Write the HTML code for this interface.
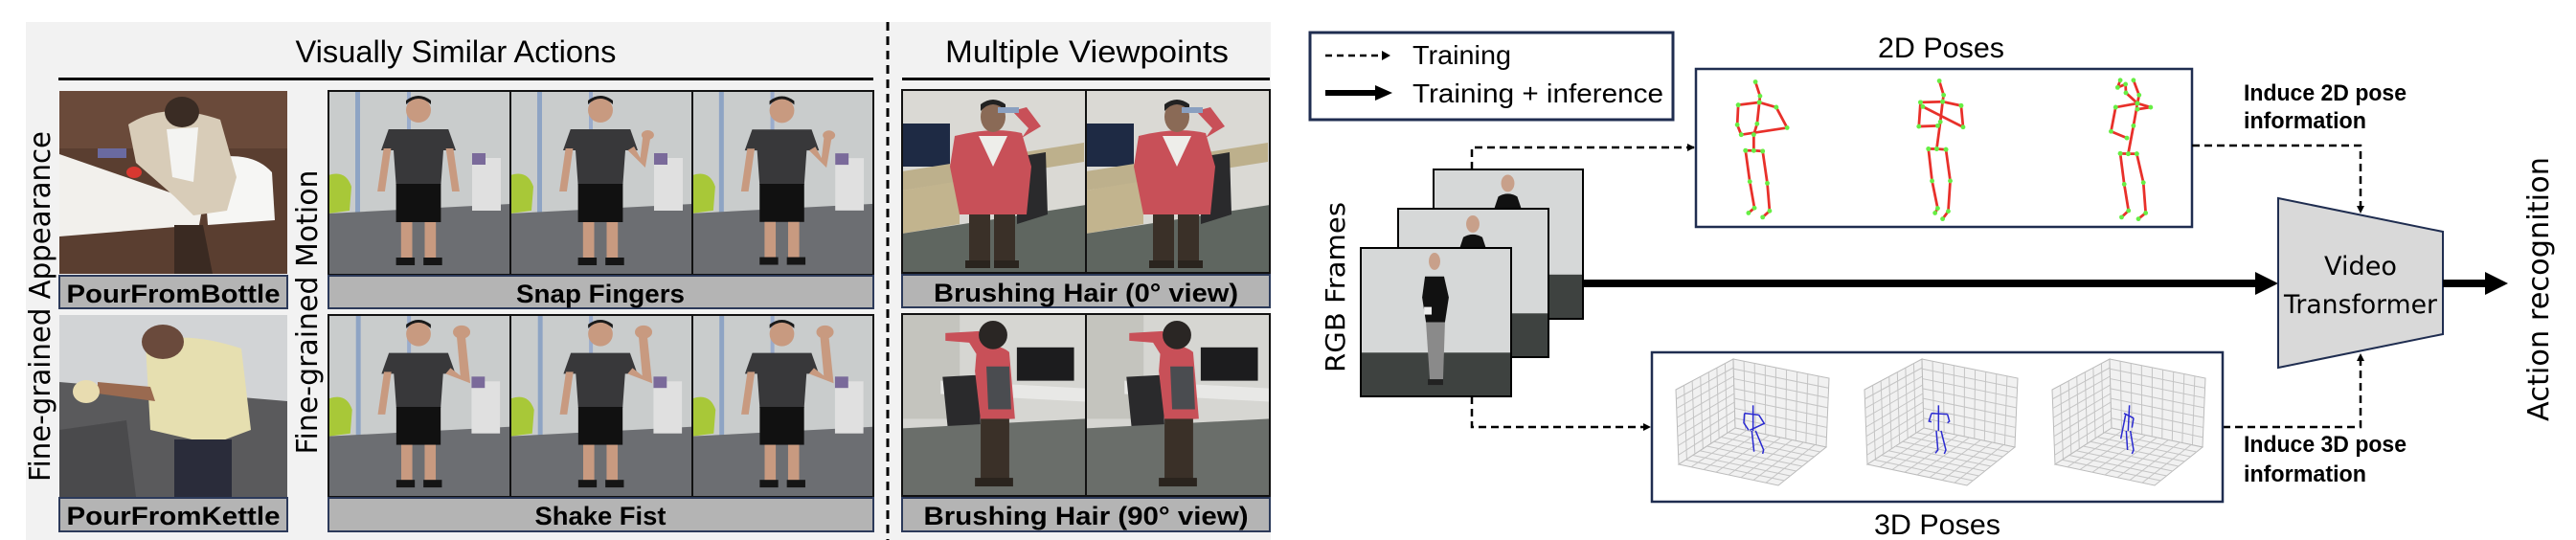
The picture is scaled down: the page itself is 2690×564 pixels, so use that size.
<!DOCTYPE html>
<html><head><meta charset="utf-8">
<style>
html,body{margin:0;padding:0;background:#fff;}
svg{display:block;}
.c{font-family:"Liberation Sans Narrow","Liberation Sans",sans-serif;}
.d{font-family:"DejaVu Sans","Liberation Sans",sans-serif;}
.lb{font-family:"Liberation Sans Narrow","Liberation Sans",sans-serif;font-weight:bold;font-size:27px;}
</style></head>
<body>
<svg id="s" width="2690" height="564" viewBox="0 0 2690 564" xmlns="http://www.w3.org/2000/svg">
<defs>
<marker id="ah" markerWidth="8" markerHeight="8" refX="7" refY="4" orient="auto" markerUnits="userSpaceOnUse"><path d="M0,0 L8,4 L0,8 Z" fill="#000"/></marker>
<g id="room">
  <rect x="0" y="0" width="190" height="192" fill="#c9cccc"/>
  <rect x="28" y="0" width="5" height="150" fill="#8ea4c4"/>
  <rect x="82" y="0" width="4" height="150" fill="#9aaccc"/>
  <polygon points="0,128 190,118 190,192 0,192" fill="#6c6e72"/>
  <path d="M0,88 Q18,82 24,100 L22,125 L0,128 Z" fill="#a8c838"/>
  <rect x="150" y="70" width="30" height="55" fill="#e0e0e0"/>
  <rect x="150" y="65" width="14" height="12" fill="#7a6a9a"/>
</g>
<g id="man">
  <ellipse cx="94" cy="20" rx="10" ry="13" fill="#c89a80"/>
  <path d="M84,14 Q94,2 104,14 L104,10 Q94,0 84,10 Z" fill="#1a1a1a"/>
  <path d="M70,40 L118,40 L124,62 L114,62 L112,98 L76,98 L74,62 L64,62 Z" fill="#38383a"/>
  <rect x="76" y="97" width="36" height="40" fill="#111"/>
  <rect x="80" y="137" width="9" height="38" fill="#c89a80"/>
  <rect x="99" y="137" width="9" height="38" fill="#c89a80"/>
  <rect x="76" y="174" width="15" height="8" fill="#151515"/>
  <rect x="98" y="174" width="15" height="8" fill="#151515"/>
</g>
<g id="armL"><path d="M66,60 L61,105 L67,105 L72,60 Z" fill="#c89a80"/></g>
<g id="armRdown"><path d="M116,60 L121,105 L127,105 L122,60 Z" fill="#c89a80"/></g>
<g id="armRsnap"><path d="M116,62 L130,80 L134,50 L128,48 L126,70 L121,58 Z" fill="#c89a80"/><circle cx="132" cy="46" r="5" fill="#c89a80"/></g>
<g id="armRfist"><path d="M116,62 L136,72 L132,22 L125,22 L128,64 L120,56 Z" fill="#c89a80"/><circle cx="129" cy="18" r="7" fill="#c89a80"/></g>
<g id="m1"><g transform="translate(94,0) scale(1.3,1) translate(-94,0)"><use href="#man"/><use href="#armL"/><use href="#armRdown"/></g></g>
<g id="m2"><g transform="translate(94,0) scale(1.3,1) translate(-94,0)"><use href="#man"/><use href="#armL"/><use href="#armRsnap"/></g></g>
<g id="m3"><g transform="translate(94,0) scale(1.3,1) translate(-94,0)"><use href="#man"/><use href="#armL"/><use href="#armRfist"/></g></g>
<g id="office">
  <rect x="0" y="0" width="192" height="191" fill="#dad9d4"/>
  <rect x="0" y="35" width="50" height="45" fill="#1e2a44"/>
  <polygon points="0,85 190,55 190,75 0,105" fill="#bdb08c"/>
  <polygon points="0,105 60,95 60,140 0,150" fill="#c2b48e"/>
  <polygon points="0,150 192,120 192,191 0,191" fill="#5f6660"/>
  <path d="M120,70 L150,65 L152,130 L120,140 Z" fill="#2a2a2c"/>
</g>
<g id="hairman">
  <path d="M55,48 Q95,38 125,45 L135,80 L130,130 L60,130 L50,80 Z" fill="#c85058"/>
  <path d="M80,48 L110,48 L95,80 Z" fill="#eeeeea"/>
  <ellipse cx="95" cy="28" rx="13" ry="16" fill="#8a6a56"/>
  <path d="M82,22 Q95,8 108,22 L108,15 Q95,5 82,15 Z" fill="#222"/>
  <path d="M125,50 L145,38 L130,18 L115,22 L132,40 Z" fill="#c85058"/>
  <rect x="100" y="18" width="22" height="6" fill="#8aa0c0"/>
  <rect x="70" y="130" width="22" height="52" fill="#3a3028"/>
  <rect x="96" y="130" width="22" height="52" fill="#3a3028"/>
  <rect x="66" y="178" width="26" height="8" fill="#2a241e"/>
  <rect x="96" y="178" width="26" height="8" fill="#2a241e"/>
</g>
<g id="office2">
  <rect x="0" y="0" width="192" height="191" fill="#d6d6d2"/>
  <rect x="0" y="0" width="60" height="110" fill="#c4c4be"/>
  <rect x="120" y="35" width="60" height="35" fill="#1c1c1e"/>
  <polygon points="40,70 192,78 192,92 40,84" fill="#e8e8e6"/>
  <path d="M42,66 L80,64 L82,120 L48,125 Z" fill="#2a2a2c"/>
  <polygon points="0,120 192,110 192,191 0,191" fill="#6a6e6a"/>
</g>
<g id="sideman">
  <path d="M78,35 Q100,30 112,40 L118,110 L82,112 L76,60 Z" fill="#c85058"/>
  <path d="M88,55 L112,55 L114,100 L90,100 Z" fill="#4a4c50"/>
  <path d="M45,20 L80,18 L92,42 L80,46 L70,30 L45,28 Z" fill="#c85058"/>
  <ellipse cx="95" cy="22" rx="15" ry="15" fill="#2a2624"/>
  <rect x="82" y="110" width="30" height="65" fill="#3a3028"/>
  <rect x="76" y="172" width="40" height="9" fill="#2a241e"/>
</g>
<g id="girlbg">
  <rect x="0" y="0" width="157" height="156" fill="#d6d8d8"/>
  <rect x="0" y="110" width="157" height="46" fill="#3e4240"/>
</g>
</defs>

<!-- LEFT PANEL -->
<rect x="27" y="23" width="1300" height="541" fill="#f2f2f2"/>
<text class="c" x="476" y="65" font-size="32" text-anchor="middle" textLength="335" lengthAdjust="spacingAndGlyphs">Visually Similar Actions</text>
<text class="c" x="1135" y="65" font-size="32" text-anchor="middle" textLength="296" lengthAdjust="spacingAndGlyphs">Multiple Viewpoints</text>
<rect x="61" y="81" width="851" height="3" fill="#000"/>
<rect x="942" y="81" width="384" height="3" fill="#000"/>
<line x1="927" y1="23" x2="927" y2="564" stroke="#000" stroke-width="3" stroke-dasharray="9,6"/>

<text class="d" transform="translate(52,320) rotate(-90)" font-size="30" text-anchor="middle" textLength="366" lengthAdjust="spacingAndGlyphs">Fine-grained Appearance</text>
<text class="d" transform="translate(331,326) rotate(-90)" font-size="30" text-anchor="middle" textLength="297" lengthAdjust="spacingAndGlyphs">Fine-grained Motion</text>

<!-- Pour from bottle -->
<svg x="62" y="95" width="238" height="191" viewBox="0 0 238 191">
  <rect width="238" height="191" fill="#5a3e30"/>
  <rect x="0" y="0" width="238" height="60" fill="#6a4a3a"/>
  <polygon points="0,66 150,118 146,140 0,152" fill="#f2f0ec"/>
  <path d="M150,72 Q200,60 222,85 L225,135 L155,140 Z" fill="#f6f6f4"/>
  <path d="M72,35 Q110,10 168,30 L185,90 L175,125 L140,130 L120,110 L80,75 Z" fill="#d8ccb8"/>
  <path d="M112,40 L145,38 L140,95 L118,90 Z" fill="#f4f4f2"/>
  <ellipse cx="128" cy="22" rx="18" ry="16" fill="#3a2c24"/>
  <rect x="40" y="60" width="30" height="10" fill="#6a6aa0"/>
  <ellipse cx="78" cy="85" rx="8" ry="6" fill="#d83830"/>
  <path d="M120,140 L150,140 L160,191 L120,191 Z" fill="#3a2a22"/>
</svg>
<rect x="62" y="288" width="238" height="34" fill="#b4b4b4" stroke="#2c3a5a" stroke-width="2"/>
<text class="lb" x="181" y="316" text-anchor="middle" textLength="223" lengthAdjust="spacingAndGlyphs">PourFromBottle</text>

<!-- Pour from kettle -->
<svg x="62" y="329" width="238" height="190" viewBox="0 0 238 190">
  <rect width="238" height="190" fill="#d2d4d6"/>
  <polygon points="0,70 238,90 238,190 0,190" fill="#5a5a5c"/>
  <polygon points="0,190 0,120 70,110 80,190" fill="#4a4a4c"/>
  <path d="M90,30 Q130,15 190,35 L200,120 L160,135 L95,120 Z" fill="#e6dfb0"/>
  <path d="M95,75 L40,70 L40,82 L100,90 Z" fill="#9a6a50"/>
  <ellipse cx="28" cy="80" rx="14" ry="12" fill="#e8dcb0"/>
  <ellipse cx="108" cy="28" rx="22" ry="18" fill="#6a4a3c"/>
  <rect x="120" y="130" width="60" height="60" fill="#2a2c3a"/>
</svg>
<rect x="62" y="520" width="238" height="35" fill="#b4b4b4" stroke="#2c3a5a" stroke-width="2"/>
<text class="lb" x="181" y="548" text-anchor="middle" textLength="223" lengthAdjust="spacingAndGlyphs">PourFromKettle</text>

<!-- Snap fingers -->
<svg x="343" y="95" width="190" height="192" viewBox="0 0 190 192"><use href="#room"/><use href="#m1"/></svg>
<svg x="533" y="95" width="190" height="192" viewBox="0 0 190 192"><use href="#room"/><use href="#m2"/></svg>
<svg x="723" y="95" width="189" height="192" viewBox="0 0 190 192"><use href="#room"/><use href="#m2"/></svg>
<rect x="343" y="95" width="569" height="192" fill="none" stroke="#111" stroke-width="2"/>
<line x1="533" y1="95" x2="533" y2="287" stroke="#111" stroke-width="2"/>
<line x1="723" y1="95" x2="723" y2="287" stroke="#111" stroke-width="2"/>
<rect x="343" y="288" width="569" height="34" fill="#b4b4b4" stroke="#2c3a5a" stroke-width="2"/>
<text class="lb" x="627" y="316" text-anchor="middle" textLength="176" lengthAdjust="spacingAndGlyphs">Snap Fingers</text>

<!-- Shake fist -->
<svg x="343" y="329" width="190" height="190" viewBox="0 0 190 192"><use href="#room"/><use href="#m3"/></svg>
<svg x="533" y="329" width="190" height="190" viewBox="0 0 190 192"><use href="#room"/><use href="#m3"/></svg>
<svg x="723" y="329" width="189" height="190" viewBox="0 0 190 192"><use href="#room"/><use href="#m3"/></svg>
<rect x="343" y="329" width="569" height="190" fill="none" stroke="#111" stroke-width="2"/>
<line x1="533" y1="329" x2="533" y2="519" stroke="#111" stroke-width="2"/>
<line x1="723" y1="329" x2="723" y2="519" stroke="#111" stroke-width="2"/>
<rect x="343" y="520" width="569" height="35" fill="#b4b4b4" stroke="#2c3a5a" stroke-width="2"/>
<text class="lb" x="627" y="548" text-anchor="middle" textLength="137" lengthAdjust="spacingAndGlyphs">Shake Fist</text>

<!-- Multiple viewpoints -->
<svg x="942" y="94" width="192" height="191" viewBox="0 0 192 191"><use href="#office"/><use href="#hairman"/></svg>
<svg x="1134" y="94" width="192" height="191" viewBox="0 0 192 191"><use href="#office"/><use href="#hairman"/></svg>
<rect x="942" y="94" width="384" height="191" fill="none" stroke="#111" stroke-width="2"/>
<line x1="1134" y1="94" x2="1134" y2="285" stroke="#111" stroke-width="2"/>
<rect x="942" y="287" width="384" height="34" fill="#b4b4b4" stroke="#2c3a5a" stroke-width="2"/>
<text class="lb" x="1134" y="315" text-anchor="middle" textLength="318" lengthAdjust="spacingAndGlyphs">Brushing Hair (0° view)</text>

<svg x="942" y="328" width="192" height="190" viewBox="0 0 192 191"><use href="#office2"/><use href="#sideman"/></svg>
<svg x="1134" y="328" width="192" height="190" viewBox="0 0 192 191"><use href="#office2"/><use href="#sideman"/></svg>
<rect x="942" y="328" width="384" height="190" fill="none" stroke="#111" stroke-width="2"/>
<line x1="1134" y1="328" x2="1134" y2="518" stroke="#111" stroke-width="2"/>
<rect x="942" y="520" width="384" height="35" fill="#b4b4b4" stroke="#2c3a5a" stroke-width="2"/>
<text class="lb" x="1134" y="548" text-anchor="middle" textLength="339" lengthAdjust="spacingAndGlyphs">Brushing Hair (90° view)</text>

<!-- RIGHT: legend -->
<rect x="1368" y="34" width="379" height="91" fill="#fff" stroke="#1f2d50" stroke-width="3"/>
<line x1="1384" y1="58" x2="1444" y2="58" stroke="#000" stroke-width="2.5" stroke-dasharray="7,5"/>
<path d="M1443,53 L1452,58 L1443,63 Z" fill="#000"/>
<text class="c" x="1475" y="67" font-size="28" textLength="103" lengthAdjust="spacingAndGlyphs">Training</text>
<line x1="1384" y1="97" x2="1438" y2="97" stroke="#000" stroke-width="6"/>
<path d="M1436,89 L1454,97 L1436,105 Z" fill="#000"/>
<text class="c" x="1475" y="107" font-size="28" textLength="262" lengthAdjust="spacingAndGlyphs">Training + inference</text>

<!-- 2D poses -->
<text class="c" x="2027" y="60" font-size="30" text-anchor="middle" textLength="132" lengthAdjust="spacingAndGlyphs">2D Poses</text>
<rect x="1771" y="72" width="518" height="165" fill="#fff" stroke="#1f2d50" stroke-width="2.5"/>
<g id="sk2d" transform="translate(1770,70) scale(0.3448)" stroke="#e8302a" stroke-width="8" fill="none" stroke-linejoin="round"></g>

<text class="c" x="2343" y="105" font-size="24" font-weight="bold" textLength="170" lengthAdjust="spacingAndGlyphs">Induce 2D pose</text>
<text class="c" x="2343" y="134" font-size="24" font-weight="bold" textLength="128" lengthAdjust="spacingAndGlyphs">information</text>

<!-- RGB frames -->
<svg x="1497" y="177" width="156" height="156" viewBox="0 0 157 156"><use href="#girlbg"/>
  <ellipse cx="78" cy="14" rx="7" ry="9" fill="#c8a08a"/><path d="M68,28 Q78,22 88,28 L92,40 L64,40 Z" fill="#111"/></svg>
<rect x="1497" y="177" width="156" height="156" fill="none" stroke="#000" stroke-width="2"/>
<svg x="1460" y="218" width="157" height="155" viewBox="0 0 157 156"><use href="#girlbg"/>
  <ellipse cx="78" cy="16" rx="7" ry="9" fill="#c8a08a"/><path d="M68,30 Q78,24 88,30 L92,42 L64,42 Z" fill="#111"/></svg>
<rect x="1460" y="218" width="157" height="155" fill="none" stroke="#000" stroke-width="2"/>
<svg x="1421" y="259" width="157" height="155" viewBox="0 0 157 156"><use href="#girlbg"/>
  <ellipse cx="77" cy="14" rx="6" ry="9" fill="#c8a08a"/>
  <path d="M67,30 L87,30 L92,52 L88,78 L68,78 L64,52 Z" fill="#111"/>
  <path d="M68,78 L88,78 L86,138 L72,138 Z" fill="#8a8a8a"/>
  <rect x="66" y="62" width="8" height="8" fill="#eee"/>
  <rect x="70" y="138" width="16" height="6" fill="#222"/></svg>
<rect x="1421" y="259" width="157" height="155" fill="none" stroke="#000" stroke-width="2"/>
<text class="d" transform="translate(1404,300) rotate(-90)" font-size="28" text-anchor="middle" textLength="178" lengthAdjust="spacingAndGlyphs">RGB Frames</text>

<!-- dashed connectors -->
<path d="M1537,177 L1537,154 L1769,154" fill="none" stroke="#000" stroke-width="2.5" stroke-dasharray="8,5" marker-end="url(#ah)"/>
<path d="M2289,152 L2465,152 L2465,222" fill="none" stroke="#000" stroke-width="2.5" stroke-dasharray="8,5" marker-end="url(#ah)"/>
<path d="M1537,414 L1537,446 L1723,446" fill="none" stroke="#000" stroke-width="2.5" stroke-dasharray="8,5" marker-end="url(#ah)"/>
<path d="M2321,446 L2465,446 L2465,370" fill="none" stroke="#000" stroke-width="2.5" stroke-dasharray="8,5" marker-end="url(#ah)"/>

<!-- 3D poses -->
<rect x="1725" y="368" width="596" height="156" fill="#fff" stroke="#1f2d50" stroke-width="2.5"/>
<g id="cubes"></g>
<text class="c" x="2023" y="558" font-size="30" text-anchor="middle" textLength="132" lengthAdjust="spacingAndGlyphs">3D Poses</text>
<text class="c" x="2343" y="472" font-size="24" font-weight="bold" textLength="170" lengthAdjust="spacingAndGlyphs">Induce 3D pose</text>
<text class="c" x="2343" y="503" font-size="24" font-weight="bold" textLength="128" lengthAdjust="spacingAndGlyphs">information</text>

<!-- main arrow -->
<rect x="1653" y="292" width="704" height="8" fill="#000"/>
<path d="M2355,284 L2379,296 L2355,308 Z" fill="#000"/>
<polygon points="2379,207 2551,242 2551,349 2379,384" fill="#d9d9d9" stroke="#1f2d50" stroke-width="2"/>
<text class="d" x="2465" y="287" font-size="27" text-anchor="middle" textLength="76" lengthAdjust="spacingAndGlyphs">Video</text>
<text class="d" x="2465" y="327" font-size="27" text-anchor="middle" textLength="160" lengthAdjust="spacingAndGlyphs">Transformer</text>
<rect x="2551" y="292" width="46" height="8" fill="#000"/>
<path d="M2595,284 L2619,296 L2595,308 Z" fill="#000"/>
<text class="d" transform="translate(2661,302) rotate(-90)" font-size="30" text-anchor="middle" textLength="276" lengthAdjust="spacingAndGlyphs">Action recognition</text>
</svg>
<script>
(function(){
var NS="http://www.w3.org/2000/svg";
function el(p,n,a){var e=document.createElementNS(NS,n);for(var k in a)e.setAttribute(k,a[k]);p.appendChild(e);return e;}
var g=document.getElementById("sk2d");
var sks=[
 {lines:[[[183,45],[197,88],[195,107]],[[131,115],[195,107],[246,122]],[[131,115],[128,175],[140,205]],[[246,122],[279,184],[140,205]],[[195,107],[188,172],[178,205],[178,253]],[[153,253],[178,253],[205,255]],[[153,253],[166,347],[180,427],[162,442]],[[205,255],[219,352],[226,436],[205,455]]]},
 {lines:[[[740,42],[753,85],[750,105]],[[683,107],[750,105],[806,117]],[[683,107],[678,180],[735,178]],[[806,117],[812,182],[690,120]],[[750,105],[743,166],[732,248]],[[707,248],[732,248],[760,250]],[[707,248],[718,345],[735,428],[727,442]],[[760,250],[773,345],[767,437],[750,460]]]},
 {lines:[[[1288,40],[1280,62],[1304,52],[1305,78],[1340,110]],[[1328,40],[1345,85],[1340,110]],[[1274,122],[1340,110],[1380,122],[1340,128]],[[1274,122],[1260,195],[1308,215]],[[1340,110],[1328,178],[1312,263]],[[1288,262],[1312,263],[1338,263]],[[1288,262],[1300,355],[1313,435],[1292,455]],[[1338,263],[1358,350],[1365,442],[1343,460]]]}
];
sks.forEach(function(s){
 s.lines.forEach(function(L){
  el(g,"polyline",{points:L.map(function(p){return p.join(",")}).join(" ")});
 });
 s.lines.forEach(function(L){L.forEach(function(p){el(g,"circle",{cx:p[0],cy:p[1],r:7,fill:"#66ee44",stroke:"none"});});});
});
var cg=document.getElementById("cubes");
function lerp(a,b,t){return [a[0]+(b[0]-a[0])*t,a[1]+(b[1]-a[1])*t];}
function quad(o,P0,P1,P2,P3,n,m){
 var pts=[P0,P1,P2,P3].map(function(p){return (p[0]+o[0])+","+(p[1]+o[1]);}).join(" ");
 el(cg,"polygon",{points:pts,fill:"#f1f1f1",stroke:"#bbb","stroke-width":1});
 for(var i=1;i<n;i++){var t=i/n;var a=lerp(P0,P1,t),b=lerp(P3,P2,t);
  el(cg,"line",{x1:a[0]+o[0],y1:a[1]+o[1],x2:b[0]+o[0],y2:b[1]+o[1],stroke:"#c4c4c4","stroke-width":1});}
 for(var j=1;j<m;j++){var s=j/m;var a=lerp(P0,P3,s),b=lerp(P1,P2,s);
  el(cg,"line",{x1:a[0]+o[0],y1:a[1]+o[1],x2:b[0]+o[0],y2:b[1]+o[1],stroke:"#c4c4c4","stroke-width":1});}
}
var A=[70,5],B=[10,37],C=[13,115],D=[72,77],E=[170,25],F=[167,97],G=[117,137];
[1740,1937,2133].forEach(function(ox,k){
 var o=[ox,370];
 quad(o,B,A,D,C,7,8);
 quad(o,A,E,F,D,9,7);
 quad(o,C,D,F,G,8,8);
 var sg=el(cg,"g",{transform:"translate("+ox+",370) scale(0.3333)",stroke:"#2a2ad0","stroke-width":4.5,fill:"none"});
 var sets=[
  [[[272,160],[272,240]],[[245,185],[290,190]],[[245,185],[243,215],[258,238]],[[290,190],[307,217],[262,238]],[[268,240],[275,305]],[[280,240],[305,300],[302,312]]],
  [[[262,160],[262,240]],[[240,185],[290,188]],[[240,185],[232,210],[240,212]],[[290,188],[296,210],[290,215]],[[255,240],[260,300],[252,310]],[[270,240],[285,300],[280,312]]],
  [[[272,160],[268,240]],[[255,185],[285,200]],[[260,190],[250,240],[245,265]],[[285,200],[280,230]],[[262,240],[266,300]],[[275,240],[285,300],[280,312]]]
 ][k];
 sets.forEach(function(L){el(sg,"polyline",{points:L.map(function(p){return p.join(",")}).join(" ")});});
});
})();
</script>
</body></html>
